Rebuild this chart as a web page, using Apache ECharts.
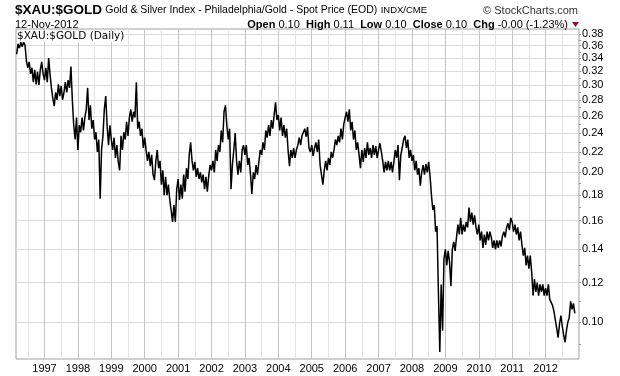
<!DOCTYPE html>
<html>
<head>
<meta charset="utf-8">
<script src="https://cdn.jsdelivr.net/npm/echarts@6/dist/echarts.min.js"></script>
<style>
  html, body { margin: 0; background: #fff; }
  #chart { width: 620px; height: 376px; }
</style>
</head>
<body>
<div id="chart"></div>
<script>
// $XAU:$GOLD ratio, two readings a month (1st and 16th)
const v1996 = [.346,.363,.356,.366,.358,.366,.361,.336,.325,.334,.316,.325,.304,.322,.301,.319,.300,.322,.334,.316]; // from March
const v1997 = [.307,.325,.304,.340,.315,.296,.282,.272,.290,.280,.301,.285,.299,.280,.290,.304,.290,.307,.296,.327,.280,.249,.233,.258];
const v1998 = [.222,.249,.241,.258,.243,.258,.268,.296,.255,.273,.245,.255,.233,.241,.220,.233,.177,.222,.237,.268,.285,.249,.227,.249];
const v1999 = [.233,.222,.235,.214,.227,.210,.202,.237,.222,.241,.233,.253,.237,.258,.268,.253,.265,.258,.304,.245,.253,.237,.245,.224];
const v2000 = [.235,.222,.211,.220,.206,.217,.198,.193,.211,.222,.204,.211,.189,.202,.180,.196,.180,.189,.176,.168,.159,.172,.159,.185];
const v2001 = [.194,.176,.189,.177,.198,.183,.204,.194,.217,.230,.211,.202,.210,.196,.204,.194,.200,.191,.198,.185,.196,.183,.197,.207];
const v2002 = [.202,.211,.200,.222,.211,.227,.220,.243,.230,.265,.273,.249,.233,.245,.185,.207,.222,.240,.211,.198,.211,.200,.222,.227];
const v2003 = [.217,.227,.207,.214,.198,.181,.200,.194,.207,.198,.210,.222,.217,.230,.222,.243,.235,.249,.237,.255,.245,.261,.277,.255];
const v2004 = [.261,.243,.258,.237,.249,.235,.245,.222,.206,.222,.214,.224,.214,.222,.227,.235,.227,.237,.241,.245,.236,.247,.224,.220];
const v2005 = [.227,.216,.224,.230,.220,.233,.207,.198,.189,.202,.211,.202,.214,.207,.220,.214,.222,.233,.227,.237,.230,.245,.233,.250];
const v2006 = [.258,.265,.253,.268,.243,.253,.233,.243,.222,.230,.217,.204,.222,.210,.224,.214,.230,.217,.224,.214,.227,.217,.226,.214];
const v2007 = [.222,.229,.220,.211,.200,.210,.202,.211,.202,.210,.200,.210,.222,.214,.227,.193,.217,.224,.233,.237,.224,.233,.214,.222];
const v2008 = [.211,.217,.202,.211,.198,.204,.188,.200,.207,.198,.208,.200,.210,.197,.180,.168,.172,.152,.156,.115,.087,.119,.096,.134];
const v2009 = [.140,.130,.139,.132,.118,.140,.145,.139,.148,.157,.150,.162,.150,.157,.152,.159,.155,.170,.159,.166,.157,.164,.155,.150];
const v2010 = [.157,.146,.152,.141,.150,.143,.152,.146,.152,.148,.141,.146,.140,.146,.141,.146,.142,.149,.152,.148,.155,.158,.153,.162];
const v2011 = [.159,.152,.157,.150,.155,.146,.152,.143,.136,.141,.130,.136,.128,.136,.126,.113,.122,.115,.120,.113,.119,.115,.119,.113];
const v2012 = [.117,.113,.119,.111,.111,.108,.105,.101,.097,.093,.099,.103,.098,.094,.091,.096,.100,.102,.110,.106,.109,.104];

const years = [1996,1997,1998,1999,2000,2001,2002,2003,2004,2005,2006,2007,2008,2009,2010,2011,2012];
const yearValues = [v1996,v1997,v1998,v1999,v2000,v2001,v2002,v2003,v2004,v2005,v2006,v2007,v2008,v2009,v2010,v2011,v2012];
const firstMonth = { 1996: 3 };

const priceTicks = [0.10,0.12,0.14,0.16,0.18,0.20,0.22,0.24,0.26,0.28,0.30,0.32,0.34,0.36,0.38];
const minorTicks = [0.09,0.10,0.11,0.12,0.13,0.14,0.15,0.16,0.17,0.18,0.19,0.20,0.21,0.22,0.23,0.24,0.25,0.26,0.27,0.28,0.29,0.30,0.31,0.32,0.33,0.34,0.35,0.36,0.37,0.38];
const yearLabels = [1997,1998,1999,2000,2001,2002,2003,2004,2005,2006,2007,2008,2009,2010,2011,2012];
const halfYearLines = [1996.5,1997,1997.5,1998,1998.5,1999,1999.5,2000,2000.5,2001,2001.5,2002,2002.5,2003,2003.5,2004,2004.5,2005,2005.5,2006,2006.5,2007,2007.5,2008,2008.5,2009,2009.5,2010,2010.5,2011,2011.5,2012,2012.5];

// x as fractional year: readings on the 1st and 16th of each month
const seriesData = [];
years.forEach((y, k) => {
    const m0 = firstMonth[y] || 1;
    yearValues[k].forEach((v, i) => {
        const m = m0 + Math.floor(i / 2);
        const d = i % 2 ? 16 : 1;
        seriesData.push([y + (m - 1) / 12 + (d - 1) / 365.25, v]);
    });
});

const font = 'Liberation Sans, Arial, sans-serif';
const chart = echarts.init(document.getElementById('chart'), null, { renderer: 'canvas' });

chart.setOption({
    animation: false,
    backgroundColor: '#fff',
    grid: {
        left: 16, right: 41, top: 29, bottom: 17,
        show: true,
        borderColor: '#a0a0a0',
        borderWidth: 1
    },
    xAxis: {
        type: 'value',
        min: 1996.147,
        max: 2013.0,
        axisLine: { show: false },
        axisTick: { show: false, customValues: halfYearLines },
        axisLabel: {
            customValues: yearLabels,
            margin: 4,
            fontFamily: font,
            fontSize: 11,
            color: '#000',
            formatter: val => String(Math.round(val))
        },
        splitLine: {
            show: true,
            lineStyle: { color: ['#e4e4e4', '#c4c4c4'], width: 1 }
        }
    },
    yAxis: [{
        type: 'log',
        position: 'right',
        min: 0.0842,
        max: 0.389,
        axisLine: { show: false },
        axisTick: { show: false, customValues: priceTicks },
        axisLabel: {
            customValues: priceTicks,
            margin: 3,
            fontFamily: font,
            fontSize: 11,
            color: '#000',
            formatter: val => val.toFixed(2)
        },
        splitLine: { show: true, lineStyle: { color: '#dcdcdc' } }
    }, {
        // minor ticks on the price scale
        type: 'log',
        position: 'right',
        min: 0.0842,
        max: 0.389,
        axisLine: { show: false },
        axisTick: { show: true, customValues: minorTicks, length: 2, lineStyle: { color: '#999' } },
        axisLabel: { show: false },
        splitLine: { show: false }
    }],
    graphic: [{
        type: 'text',
        left: 15, top: 3,
        style: {
            text: '{t|$XAU:$GOLD} {s|Gold & Silver Index - Philadelphia/Gold - Spot Price (EOD)} {m|INDX/CME}',
            rich: {
                t: { font: 'bold 13.5px ' + font, fill: '#000' },
                s: { font: '10.5px ' + font, fill: '#000' },
                m: { font: '9.5px ' + font, fill: '#000' }
            }
        }
    }, {
        type: 'text',
        right: 42, top: 5,
        style: { text: '\u00a9 StockCharts.com', font: '11px ' + font, fill: '#333' }
    }, {
        type: 'text',
        left: 15, top: 19,
        style: { text: '12-Nov-2012', font: '11px ' + font, fill: '#000' }
    }, {
        type: 'text',
        right: 52, top: 19,
        style: {
            text: '{b|Open} 0.10  {b|High} 0.11  {b|Low} 0.10  {b|Close} 0.10  {b|Chg} -0.00 (-1.23%)',
            font: '11px ' + font,
            fill: '#000',
            rich: { b: { font: 'bold 11px ' + font, fill: '#000' } }
        }
    }, {
        type: 'polygon',
        shape: { points: [[572, 22], [579, 22], [575.5, 27]] },
        style: { fill: '#8b1538' }
    }, {
        type: 'text',
        left: 17, top: 31,
        z: 10,
        style: {
            text: '$XAU:$GOLD (Daily)',
            font: '10.5px DejaVu Sans, sans-serif',
            fill: '#000',
            backgroundColor: '#fff'
        }
    }],
    series: [{
        type: 'line',
        xAxisIndex: 0,
        yAxisIndex: 0,
        data: seriesData,
        showSymbol: false,
        symbol: 'none',
        lineStyle: { color: '#000', width: 1.5 },
        z: 5
    }]
});
</script>
</body>
</html>
